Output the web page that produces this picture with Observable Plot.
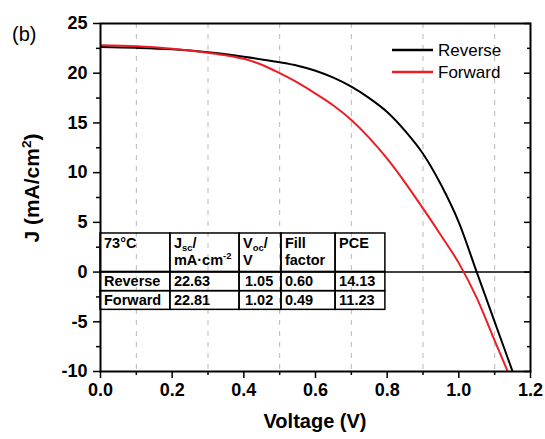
<!DOCTYPE html>
<html><head><meta charset="utf-8">
<script src="https://cdn.jsdelivr.net/npm/d3@7"></script>
<script src="https://cdn.jsdelivr.net/npm/@observablehq/plot@0.6"></script>
<style>
body{margin:0;background:#fff;}
#chart{position:relative;width:545px;height:439px;}
#chart svg{font-family:"Liberation Sans",Arial,sans-serif;}
</style></head><body><div id="chart"></div>
<script>
// Data
const voltageRev = [0,0.1,0.2,0.3,0.4,0.5,0.55,0.6,0.65,0.7,0.75,0.8,0.85,0.9,0.95,1.0,1.05,1.1,1.15];
const jReverse   = [22.63,22.55,22.4,22.1,21.65,21.1,20.75,20.25,19.55,18.65,17.5,16.1,14.2,11.9,8.8,5.0,0.0,-5.0,-10.0];
const voltageFwd = [0,0.1,0.2,0.3,0.35,0.4,0.45,0.5,0.55,0.6,0.65,0.7,0.75,0.8,0.85,0.9,0.95,1.0,1.05,1.1,1.14];
const jForward   = [22.81,22.7,22.45,22.05,21.8,21.45,20.85,20.0,19.05,17.95,16.75,15.3,13.5,11.4,9.0,6.4,3.7,0.9,-2.6,-6.9,-10.3];

const xMajor = [0,0.2,0.4,0.6,0.8,1.0,1.2];
const xMinor = [0.1,0.3,0.5,0.7,0.9,1.1];
const yMajor = [-10,-5,0,5,10,15,20,25];
const yMinor = [-7.5,-2.5,2.5,7.5,12.5,17.5,22.5];

const seriesNames = ["Reverse","Forward"];
const seriesColors = ["#000000","#ee1c25"];

// Table (placed in data units)
const tableColEdges = [0,0.195,0.388,0.505,0.656,0.795];
const tableRowEdges = [3.88,0,-1.92,-3.8];
const tableRowLabels = ["Reverse","Forward"];
const tableJsc = ["22.63","22.81"];
const tableVoc = ["1.05","1.02"];
const tableFF  = ["0.60","0.49"];
const tablePCE = ["14.13","11.23"];

const rev = voltageRev.map((v,i)=>({v, j:jReverse[i]}));
const fwd = voltageFwd.map((v,i)=>({v, j:jForward[i]}));
const cells = [];
for (let r=0;r<tableRowEdges.length-1;r++)
  for (let c=0;c<tableColEdges.length-1;c++)
    cells.push({x1:tableColEdges[c],x2:tableColEdges[c+1],y1:tableRowEdges[r],y2:tableRowEdges[r+1]});

const tickFont = {fontWeight:"bold", fontSize:18, fill:"black"};
const plot = Plot.plot({
  width:545, height:439,
  marginLeft:100, marginRight:15, marginTop:23, marginBottom:68,
  x:{domain:[0,1.2]}, y:{domain:[-10,25]},
  style:{fontFamily:"Liberation Sans, Arial, sans-serif", fontSize:"18px", color:"black", background:"white"},
  marks:[
    Plot.ruleX(xMinor,{stroke:"#b8b8b8",strokeDasharray:"5,6",strokeWidth:1}),
    Plot.ruleY([0],{stroke:"black",strokeWidth:1.5}),
    Plot.rect(cells,{x1:"x1",x2:"x2",y1:"y1",y2:"y2",stroke:"black",fill:"none",strokeWidth:1.5}),
    Plot.line(rev,{x:"v",y:"j",stroke:seriesColors[0],strokeWidth:2,curve:"monotone-x",clip:true}),
    Plot.line(fwd,{x:"v",y:"j",stroke:seriesColors[1],strokeWidth:2,curve:"monotone-x",clip:true}),
    Plot.axisX(xMajor,{tickSize:7,tickPadding:5,tickFormat:d3.format(".1f"),label:null,strokeWidth:1.5,...tickFont}),
    Plot.axisX(xMinor,{tickSize:4,tickFormat:()=>"",label:null,strokeWidth:1.5}),
    Plot.axisY(yMajor,{tickSize:7,tickPadding:6,tickFormat:d=>String(d),label:null,strokeWidth:1.5,...tickFont}),
    Plot.axisY(yMinor,{tickSize:4,tickFormat:()=>"",label:null,strokeWidth:1.5}),
    Plot.axisY(yMajor,{anchor:"right",tickSize:-7,tickFormat:()=>"",label:null,strokeWidth:1.5}),
    Plot.axisY(yMinor,{anchor:"right",tickSize:-4,tickFormat:()=>"",label:null,strokeWidth:1.5}),
    Plot.frame({stroke:"black",strokeWidth:2})
  ]
});
document.getElementById("chart").appendChild(plot);

const svg = d3.select(plot);
const sx = plot.scale("x"), sy = plot.scale("y");
const fontFam = "Liberation Sans, Arial, sans-serif";

function rich(x, y, segs, size, weight, anchor, transform) {
  const t = svg.append("text").attr("x",x).attr("y",y)
    .attr("font-family",fontFam).attr("font-size",size).attr("font-weight",weight||"bold")
    .attr("text-anchor",anchor||"start").attr("fill","black");
  if (transform) t.attr("transform",transform);
  let shift = 0;
  segs.forEach(s=>{
    const target = s.sub ? size*0.22 : s.sup ? -size*0.4 : 0;
    const ts = t.append("tspan").text(s.t).attr("dy", target-shift);
    if (s.sub||s.sup) ts.attr("font-size", size*0.65);
    shift = target;
  });
  return t;
}

// Table text
const fs = 14.5;
const tableTop = sy.apply(tableRowEdges[0]);
const colX = tableColEdges.map(v=>sx.apply(v)+4);
rich(colX[0], tableTop+15, [{t:"73°C"}], fs);
rich(colX[1], tableTop+15, [{t:"J"},{t:"sc",sub:true},{t:"/"}], fs);
rich(colX[1], tableTop+32, [{t:"mA·cm"},{t:"-2",sup:true}], fs);
rich(colX[2], tableTop+15, [{t:"V"},{t:"oc",sub:true},{t:"/"}], fs);
rich(colX[2], tableTop+32, [{t:"V"}], fs);
rich(colX[3], tableTop+15, [{t:"Fill"}], fs);
rich(colX[3], tableTop+32, [{t:"factor"}], fs);
rich(colX[4], tableTop+15, [{t:"PCE"}], fs);
tableRowLabels.forEach((lab,i)=>{
  const yc = (sy.apply(tableRowEdges[i+1])+sy.apply(tableRowEdges[i+2]))/2 + 5;
  [lab, tableJsc[i], tableVoc[i], tableFF[i], tablePCE[i]].forEach((txt,c)=>{
    rich(colX[c] + (c===2?2:0), yc, [{t:txt}], fs);
  });
});

// Legend
seriesNames.forEach((name,i)=>{
  const y = 50 + i*22;
  svg.append("line").attr("x1",392).attr("x2",433).attr("y1",y).attr("y2",y)
    .attr("stroke",seriesColors[i]).attr("stroke-width",2.5);
  svg.append("text").attr("x",438).attr("y",y+6).attr("font-family",fontFam).attr("font-size",17)
    .attr("text-anchor","start").attr("fill","black").text(name);
});

// Panel label and axis titles
svg.append("text").attr("x",12).attr("y",41).attr("font-family",fontFam).attr("font-size",20)
  .attr("text-anchor","start").attr("fill","black").text("(b)");
rich(315, 428, [{t:"Voltage (V)"}], 20, "bold", "middle");
rich(0, 0, [{t:"J (mA/cm"},{t:"2",sup:true},{t:")"}], 21, "bold", "middle", "translate(39,188) rotate(-90)");
</script></body></html>
